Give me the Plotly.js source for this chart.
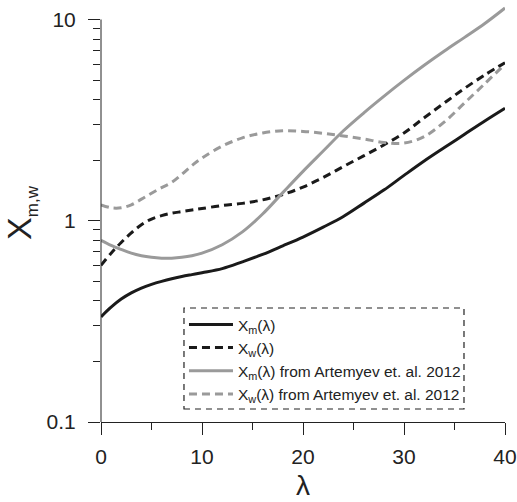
<!DOCTYPE html>
<html>
<head>
<meta charset="utf-8">
<script src="https://cdn.plot.ly/plotly-3.0.1.min.js"></script>
<style>html,body{margin:0;padding:0;background:#fff;}#chart{width:517px;height:502px;}</style>
</head>
<body>
<div id="chart"></div>
<script>
// lambda values
var lambda = [0,1,2,3,4,5,6,7,8,9,10,12,14,16,18,20,22,24,26,28,30,32,34,36,38,40];
// X_m(lambda) - this work
var xmThis = [0.333,0.372,0.408,0.438,0.463,0.483,0.50,0.515,0.528,0.54,0.552,0.578,0.625,0.68,0.75,0.83,0.93,1.05,1.22,1.42,1.68,1.98,2.31,2.69,3.13,3.62];
// X_w(lambda) - this work
var xwThis = [0.60,0.69,0.78,0.87,0.955,1.02,1.06,1.09,1.11,1.13,1.15,1.19,1.22,1.27,1.35,1.47,1.64,1.86,2.1,2.38,2.73,3.25,3.85,4.55,5.3,6.1];
// X_m(lambda) from Artemyev et al. 2012
var xmArt = [0.80,0.755,0.72,0.69,0.67,0.658,0.652,0.652,0.658,0.67,0.69,0.76,0.88,1.08,1.38,1.76,2.22,2.80,3.43,4.15,4.98,5.92,6.97,8.15,9.55,11.4];
// X_w(lambda) from Artemyev et al. 2012
var xwArt = [1.2,1.16,1.16,1.2,1.28,1.37,1.46,1.55,1.7,1.88,2.05,2.35,2.58,2.73,2.8,2.78,2.72,2.64,2.55,2.45,2.43,2.62,3.1,3.85,4.8,6.0];

var names = ['X<sub>m</sub>(λ)','X<sub>w</sub>(λ)','X<sub>m</sub>(λ) from Artemyev et. al. 2012','X<sub>w</sub>(λ) from Artemyev et. al. 2012'];
var yTickVals = [0.1,1,10];
var yTickText = ['0.1','1','10'];
var yMinorVals = [0.2,0.3,0.4,0.5,0.6,0.7,0.8,0.9,2,3,4,5,6,7,8,9];
var xTickVals = [0,10,20,30,40];

var black = '#1a1a1a', gray = '#9a9a9a';
function tr(y, name, color, dash){
  return {x: lambda, y: y, name: name, type: 'scatter', mode: 'lines',
    line: {color: color, width: 3, dash: dash, shape: 'spline', smoothing: 1}};
}
var data = [
  tr(xmThis, names[0], black, 'solid'),
  tr(xwThis, names[1], black, '8px,5px'),
  tr(xmArt, names[2], gray, 'solid'),
  tr(xwArt, names[3], gray, '8px,5px')
];

var yRange = [-1, 1.077];
var yTopPaper = (1 - yRange[0]) / (yRange[1] - yRange[0]);
var FONT = 'Liberation Sans, Arial, sans-serif';

var layout = {
  width: 517, height: 502,
  margin: {l: 101, r: 12, t: 4, b: 80},
  paper_bgcolor: '#fff', plot_bgcolor: '#fff',
  font: {family: FONT, color: '#222', size: 20},
  showlegend: true,
  legend: {x: 0.2054, y: 0.273, xanchor: 'left', yanchor: 'top',
    bgcolor: 'rgba(0,0,0,0)', borderwidth: 0, itemwidth: 44,
    font: {family: FONT, size: 15.5, color: '#222'}, tracegroupgap: 0},
  xaxis: {range: [0, 40], showgrid: false, zeroline: false,
    showline: true, linecolor: '#222', linewidth: 1,
    tickmode: 'array', tickvals: xTickVals, ticks: 'outside', ticklen: 12, tickwidth: 1, tickcolor: '#222',
    ticklabelstandoff: 4,
    tickfont: {family: FONT, size: 21, color: '#222'},
    minor: {tickmode: 'linear', tick0: 5, dtick: 10, ticks: 'outside', ticklen: 7, tickwidth: 1, tickcolor: '#222', showgrid: false},
    title: {text: 'λ', font: {family: FONT, size: 28, color: '#222'}, standoff: 8}},
  yaxis: {type: 'log', range: yRange, showgrid: false, zeroline: false, showline: false,
    tickmode: 'array', tickvals: yTickVals, ticktext: yTickText, ticks: 'outside', ticklen: 12, tickwidth: 1, tickcolor: '#222',
    ticklabelstandoff: 8,
    tickfont: {family: FONT, size: 21, color: '#222'},
    minor: {tickmode: 'array', tickvals: yMinorVals, ticks: 'outside', ticklen: 7, tickwidth: 1, tickcolor: '#222', showgrid: false},
    title: {text: 'X<sub><span style="font-size:17px">m,w</span></sub>', font: {family: FONT, size: 34, color: '#222'}, standoff: 8}},
  shapes: [
    {type: 'line', xref: 'paper', yref: 'paper', x0: 0, x1: 0, y0: 0, y1: yTopPaper, line: {color: '#222', width: 1}},
    {type: 'rect', xref: 'paper', yref: 'paper', x0: 0.2054, x1: 0.8985, y0: 0.0311, y1: 0.2727,
      line: {color: '#222', width: 1.2, dash: '6px,5px'}, fillcolor: 'rgba(0,0,0,0)'}
  ]
};

Plotly.newPlot('chart', data, layout, {staticPlot: true, displayModeBar: false});
</script>
</body>
</html>
